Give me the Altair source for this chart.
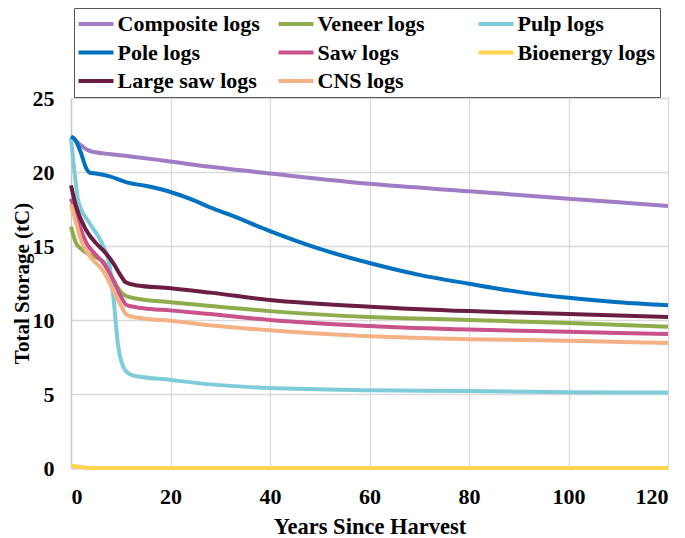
import altair as alt
import pandas as pd

series_names = ["Composite logs", "Veneer logs", "Pulp logs", "Pole logs",
                "Saw logs", "Bioenergy logs", "Large saw logs", "CNS logs"]
series_colors = ["#A07CC5", "#8FAC4D", "#7ECCDA", "#0070C0",
                 "#C9528A", "#FFD54F", "#6B1E44", "#F4B183"]

composite_x = [0, 1, 2, 4, 8, 12, 18, 28, 40, 60, 80, 100, 120]
composite_y = [22.4, 22.1, 21.8, 21.4, 21.2, 21.05, 20.8, 20.35, 19.9, 19.2, 18.7, 18.2, 17.7]

pole_x = [0, 0.8, 2, 3, 3.8, 5, 7.8, 11.2, 15.2, 20, 24.6, 28, 32, 40, 50, 60, 70, 80, 90, 100, 110, 120]
pole_y = [22.4, 22.2, 21.3, 20.3, 19.95, 19.9, 19.7, 19.3, 19.05, 18.65, 18.1, 17.6, 17.1, 16.0,
          14.8, 13.85, 13.05, 12.45, 11.9, 11.5, 11.2, 11.0]

largesaw_x = [0, 1, 3, 5, 6.5, 8.5, 10, 11, 13, 20, 28, 40, 60, 80, 100, 120]
largesaw_y = [19.1, 17.7, 16.1, 15.2, 14.7, 13.85, 13.0, 12.55, 12.35, 12.15, 11.85, 11.35, 10.9, 10.6, 10.4, 10.2]

veneer_x = [0, 1, 2, 4.5, 6.5, 8.5, 10, 11.2, 13, 20, 28, 40, 60, 80, 100, 120]
veneer_y = [16.3, 15.2, 14.8, 14.3, 13.95, 12.7, 11.9, 11.6, 11.45, 11.2, 10.95, 10.6, 10.2, 10.0, 9.8, 9.55]

saw_x = [0, 1, 1.8, 3.1, 5, 6.5, 8.5, 10, 11.2, 14.5, 20, 28, 40, 60, 80, 100, 120]
saw_y = [18.2, 17.2, 16.3, 15.2, 14.4, 13.85, 12.7, 11.6, 11.0, 10.8, 10.65, 10.4, 10.0, 9.6, 9.35, 9.2, 9.05]

cns_x = [0, 1, 1.8, 3.8, 6.5, 8.5, 10, 11.2, 14.5, 20, 28, 40, 60, 80, 100, 120]
cns_y = [17.8, 16.6, 15.6, 14.3, 13.3, 12.0, 11.0, 10.35, 10.1, 9.95, 9.65, 9.3, 8.9, 8.7, 8.6, 8.45]

pulp_x = [0, 0.7, 1.5, 3.8, 6.2, 7.8, 8.5, 9.5, 10.9, 12.5, 20, 28, 40, 60, 80, 100, 120]
pulp_y = [22.3, 20.0, 18.0, 16.5, 15.2, 13.6, 11.6, 8.2, 6.6, 6.25, 5.95, 5.65, 5.4, 5.25, 5.2, 5.12, 5.1]

bio_x = [0, 1, 2, 4, 120]
bio_y = [0.15, 0.12, 0.05, 0.0, 0.0]

x_ticks = [0, 20, 40, 60, 80, 100, 120]
y_ticks = [0, 5, 10, 15, 20, 25]

series_data = {
    "Composite logs": (composite_x, composite_y),
    "Veneer logs": (veneer_x, veneer_y),
    "Pulp logs": (pulp_x, pulp_y),
    "Pole logs": (pole_x, pole_y),
    "Saw logs": (saw_x, saw_y),
    "Bioenergy logs": (bio_x, bio_y),
    "Large saw logs": (largesaw_x, largesaw_y),
    "CNS logs": (cns_x, cns_y),
}

rows = []
for i, name in enumerate(series_names):
    xs, ys = series_data[name]
    for x, y in zip(xs, ys):
        rows.append({"series": name, "order": i, "year": x, "storage": y})
df = pd.DataFrame(rows)

FONT = "Liberation Serif, Tinos, Times New Roman, DejaVu Serif, serif"

chart = alt.Chart(df).mark_line(strokeWidth=4, interpolate="monotone").encode(
    x=alt.X("year:Q", title="Years Since Harvest",
            scale=alt.Scale(domain=[0, 120], nice=False),
            axis=alt.Axis(values=x_ticks, labelPadding=18, titlePadding=8,
                          titleFontSize=22.5)),
    y=alt.Y("storage:Q", title="Total Storage (tC)",
            scale=alt.Scale(domain=[0, 25], nice=False),
            axis=alt.Axis(values=y_ticks, labelPadding=17, titlePadding=0,
                          titleFontSize=21)),
    color=alt.Color("series:N", title=None,
                    scale=alt.Scale(domain=series_names, range=series_colors),
                    legend=alt.Legend(
                        orient="none", legendX=3, legendY=-90, direction="horizontal",
                        columns=3, gridAlign="all", columnPadding=10, rowPadding=6.5,
                        symbolType="M-2,0L2,0", symbolSize=306, symbolStrokeWidth=4,
                        symbolOffset=6,
                        labelFont=FONT, labelFontSize=22, labelFontWeight="bold",
                        labelColor="black", labelOffset=10.5, labelLimit=300,
                        strokeColor="#555555", padding=5)),
    detail="series:N",
    order="order:Q",
).properties(
    width=597, height=370,
    autosize=alt.AutoSizeParams(type="none"),
    padding={"left": 63, "top": 90, "right": 9, "bottom": 70},
).configure_axis(
    labelFont=FONT, labelFontSize=22, labelFontWeight="bold", labelColor="black",
    titleFont=FONT, titleFontWeight="bold", titleColor="black",
    gridColor="#D9D9D9", gridWidth=1.3, domainColor="#C8C8C8", domainWidth=1.3,
    ticks=False, tickSize=0,
).configure_view(stroke=None)

chart.save("out.html", embed_options={"renderer": "svg", "actions": False})
